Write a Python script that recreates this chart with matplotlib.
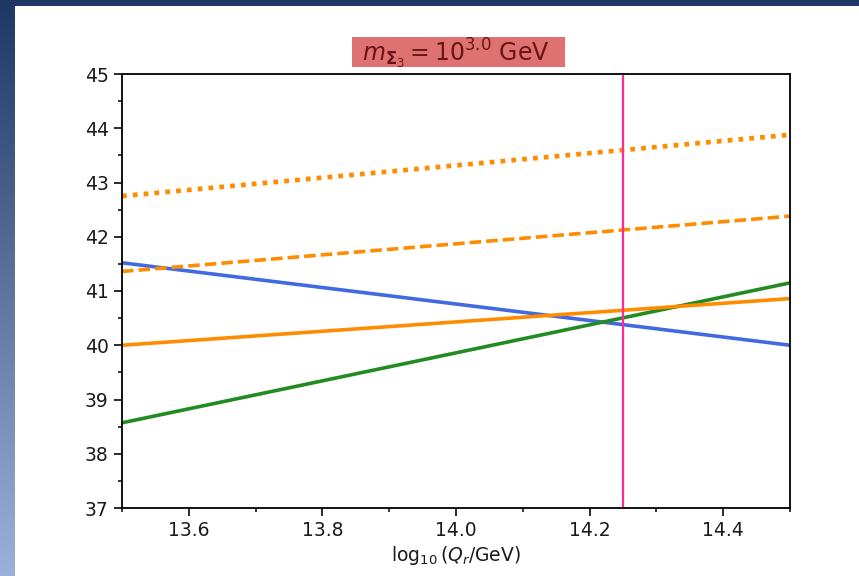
import numpy as np
import matplotlib
matplotlib.use("Agg")
import matplotlib.pyplot as plt
from matplotlib.ticker import MultipleLocator

# Data (line endpoints)
x_vals = [13.5, 14.5]
blue_vals = [41.52, 40.00]
green_vals = [38.57, 41.15]
orange_solid_vals = [40.00, 40.86]
orange_dashed_vals = [41.36, 42.38]
orange_dotted_vals = [42.75, 43.88]
vline_x = 14.25
title_text = r"$m_{\mathbf{\Sigma}_3} = 10^{3.0}$ GeV"
xlabel_text = r"$\log_{10}(Q_r/\mathrm{GeV})$"
xticks = [13.6, 13.8, 14.0, 14.2, 14.4]
yticks = [37, 38, 39, 40, 41, 42, 43, 44, 45]

W, H = 859, 576
fig = plt.figure(figsize=(W / 100, H / 100), dpi=100)
fig.patch.set_facecolor("white")

# Slide-like background: top bar and left gradient strip
bg = fig.add_axes([0, 0, 1, 1], zorder=-10)
bg.set_xlim(0, W)
bg.set_ylim(H, 0)
bg.axis("off")
grad = np.linspace(0, 1, 256).reshape(-1, 1)
top_c = np.array([0x1e, 0x37, 0x64]) / 255
bot_c = np.array([0x9c, 0xb0, 0xdc]) / 255
img = top_c[None, None, :] * (1 - grad[:, :, None]) + bot_c[None, None, :] * grad[:, :, None]
bg.imshow(img, extent=[0, 15, H, 0], aspect="auto")
bg.add_patch(plt.Rectangle((0, 0), W, 6, color=top_c, lw=0))
# title background box
bg.add_patch(plt.Rectangle((352, 37), 213, 30, color="#de7272", lw=0))

ax = fig.add_axes([122 / W, 1 - 508 / H, (790 - 122) / W, (508 - 74) / H])
lw = 2.6
ax.plot(x_vals, blue_vals, color="royalblue", lw=lw)
ax.plot(x_vals, green_vals, color="forestgreen", lw=lw)
ax.plot(x_vals, orange_solid_vals, color="darkorange", lw=lw)
ax.plot(x_vals, orange_dashed_vals, color="darkorange", lw=lw, ls=(0, (3.2, 1.4)))
ax.plot(x_vals, orange_dotted_vals, color="darkorange", lw=3.4, ls=(0, (1.0, 1.3)))
ax.axvline(vline_x, color="#ff2a9a", lw=1.6)

ax.set_xlim(13.5, 14.5)
ax.set_ylim(37, 45)
ax.set_xticks(xticks)
ax.set_yticks(yticks)
ax.xaxis.set_minor_locator(MultipleLocator(0.1))
ax.yaxis.set_minor_locator(MultipleLocator(0.5))
for s in ax.spines.values():
    s.set_linewidth(1.3)
ax.tick_params(labelsize=13.5, width=1.3, length=5.5, pad=4, colors="#1a1a1a")
ax.tick_params(which="minor", width=1.1, length=3)
ax.set_xlabel(xlabel_text, fontsize=13.5, labelpad=3, color="#1a1a1a")
ax.set_title(title_text, fontsize=17, color="#6a1515", pad=9)

fig.savefig("out.png", dpi=100)
